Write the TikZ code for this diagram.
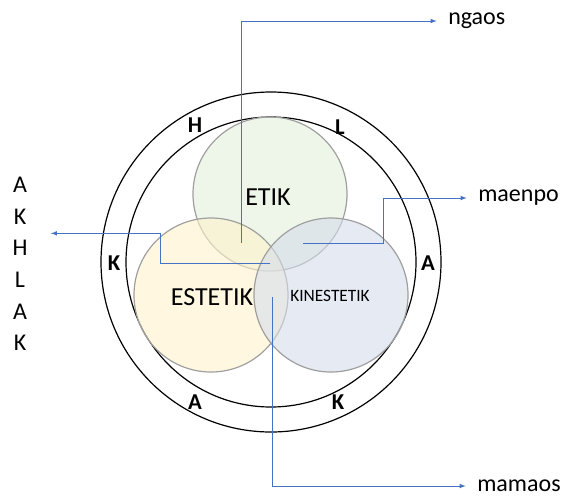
\documentclass[tikz,border=0pt]{standalone}
\usepackage{fontspec}
\setmainfont{Carlito}
\definecolor{linkblue}{RGB}{68,114,196}
\definecolor{etikfill}{RGB}{226,239,218}
\definecolor{estfill}{RGB}{255,242,204}
\definecolor{kinfill}{RGB}{214,220,235}
\tikzset{
  >=latex,
  ring/.style={draw=black, line width=0.9pt},
  venn/.style={draw=gray!75, line width=0.9pt, fill opacity=0.6},
  link/.style={draw=linkblue, line width=0.6pt, ->, shorten >=8.5pt},
  ringlbl/.style={font=\fontsize{17}{20}\selectfont\bfseries},
  outlbl/.style={font=\fontsize{18}{21}\selectfont, anchor=west, inner sep=0pt},
}

\begin{document}
\begin{tikzpicture}[x=0.75pt, y=-0.75pt]
    \useasboundingbox (0,0) rectangle (566,497);
    \draw[ring] (271,262) circle (170);
    \draw[ring] (271,262) circle (145);
    \filldraw[venn, fill=etikfill] (270,194) circle (77);
    \filldraw[venn, fill=estfill] (211,295) circle (77);
    \filldraw[venn, fill=kinfill] (331,295) circle (77);
    \node[font=\fontsize{19.5}{22}\selectfont] (etik) at (268,197) {ETIK};
    \node[font=\fontsize{19.5}{22}\selectfont] (estetik) at (212,297) {ESTETIK};
    \node[font=\fontsize{13}{15}\selectfont] (kinestetik) at (330,296) {KINESTETIK};
    \node[ringlbl] (h) at (195,125) {H};
    \node[ringlbl] (l) at (340,127) {L};
    \node[ringlbl] (k1) at (114,263) {K};
    \node[ringlbl] (a1) at (428,263) {A};
    \node[ringlbl] (a2) at (195,402) {A};
    \node[ringlbl] (k2) at (338,402) {K};
    \node[outlbl] (ngaos) at (448,21) {ngaos};
    \node[outlbl] (maenpo) at (478,198) {maenpo};
    \node[outlbl] (mamaos) at (477,486) {mamaos};
    \node[font=\fontsize{18}{23.7}\selectfont, align=center] (akhlak) at (20,264) {A\\K\\H\\L\\A\\K};
    \coordinate (s1) at (241,243);
    \coordinate (s2) at (303,243);
    \coordinate (s3) at (270,263);
    \coordinate (s4) at (272,297);
    \draw[link] (s1) |- (ngaos.west);
    \draw[link] (s2) -- ++(80,0) |- (maenpo.west);
    \draw[link, shorten >=14pt] (s3) -- ++(-110,0) |- ([yshift=23pt]akhlak.east);
    \draw[link] (s4) |- (mamaos.west);
\end{tikzpicture}
\end{document}
